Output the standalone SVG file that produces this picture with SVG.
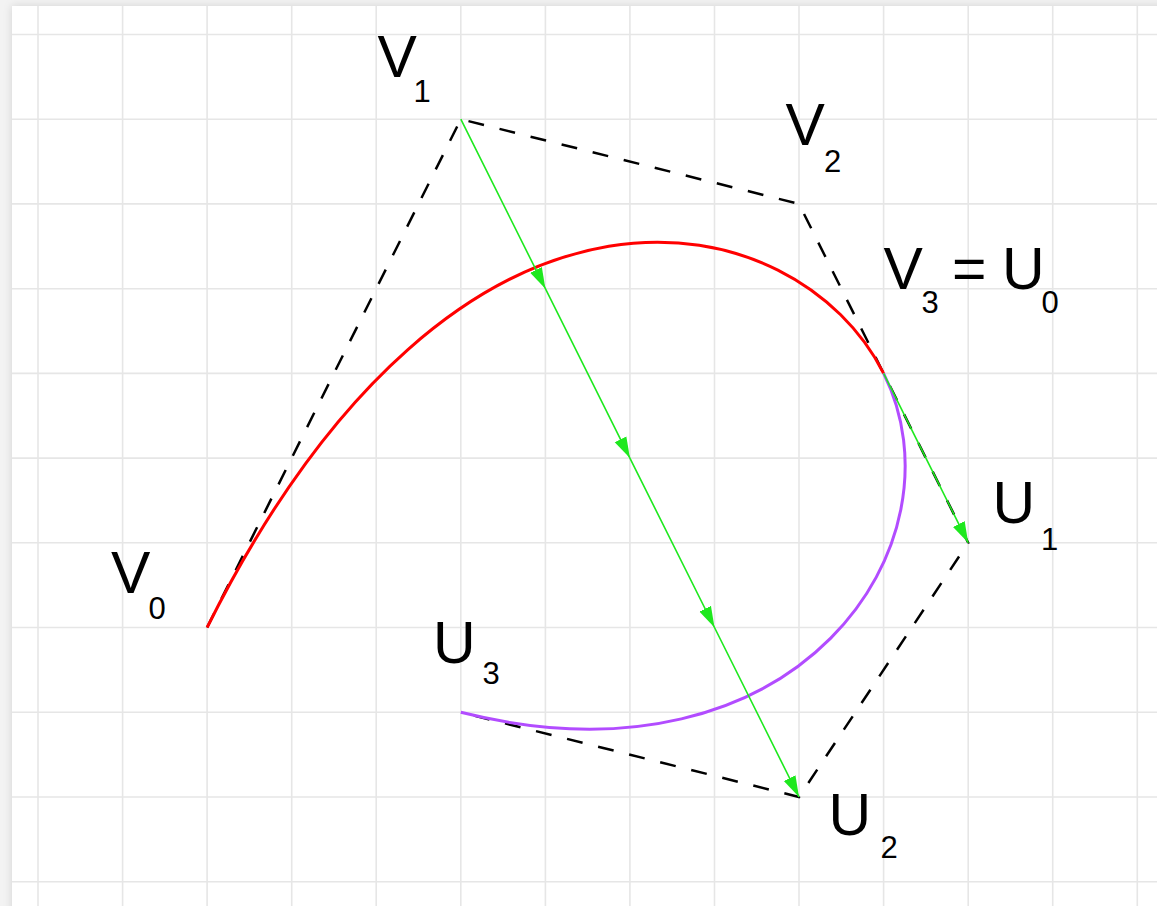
<svg xmlns="http://www.w3.org/2000/svg" width="1157" height="906" viewBox="0 0 1157 906">
<defs>
<style>
.grid line{stroke:#e6e6e6;stroke-width:1.6}
.poly{fill:none;stroke:#000;stroke-width:2.5;stroke-dasharray:16 16}
.bez{fill:none;stroke-width:3}
.arr{fill:none;stroke:#1ee81e;stroke-width:1.6}
.lbl{font-family:"Liberation Sans",Arial,sans-serif;font-size:59px;fill:#000}
.sub{font-size:31px}
</style>
<filter id="sh" x="-5%" y="-5%" width="110%" height="110%">
<feDropShadow dx="0" dy="0" stdDeviation="4" flood-color="#000" flood-opacity="0.14"/>
</filter>
<marker id="ah" viewBox="-21 -7 21 14" refX="0" refY="0" markerWidth="21" markerHeight="14" markerUnits="userSpaceOnUse" orient="auto">
<path d="M0,0 L-21,-6.5 L-21,6.5 Z" fill="#1ee81e"/>
</marker>
</defs>
<rect width="1157" height="906" fill="#f3f3f3"/>
<rect x="12" y="6" width="1160" height="920" fill="#fff" filter="url(#sh)"/>
<g id="grid" class="grid">
<line x1="38" y1="6" x2="38" y2="906"/>
<line x1="122.6" y1="6" x2="122.6" y2="906"/>
<line x1="207.1" y1="6" x2="207.1" y2="906"/>
<line x1="291.7" y1="6" x2="291.7" y2="906"/>
<line x1="376.2" y1="6" x2="376.2" y2="906"/>
<line x1="460.8" y1="6" x2="460.8" y2="906"/>
<line x1="545.4" y1="6" x2="545.4" y2="906"/>
<line x1="629.9" y1="6" x2="629.9" y2="906"/>
<line x1="714.5" y1="6" x2="714.5" y2="906"/>
<line x1="799" y1="6" x2="799" y2="906"/>
<line x1="883.6" y1="6" x2="883.6" y2="906"/>
<line x1="968.2" y1="6" x2="968.2" y2="906"/>
<line x1="1052.7" y1="6" x2="1052.7" y2="906"/>
<line x1="1137.3" y1="6" x2="1137.3" y2="906"/>
<line x1="12" y1="34.5" x2="1157" y2="34.5"/>
<line x1="12" y1="119.2" x2="1157" y2="119.2"/>
<line x1="12" y1="203.9" x2="1157" y2="203.9"/>
<line x1="12" y1="288.7" x2="1157" y2="288.7"/>
<line x1="12" y1="373.4" x2="1157" y2="373.4"/>
<line x1="12" y1="458.1" x2="1157" y2="458.1"/>
<line x1="12" y1="542.8" x2="1157" y2="542.8"/>
<line x1="12" y1="627.5" x2="1157" y2="627.5"/>
<line x1="12" y1="712.3" x2="1157" y2="712.3"/>
<line x1="12" y1="797" x2="1157" y2="797"/>
<line x1="12" y1="881.7" x2="1157" y2="881.7"/>
</g>
<g id="connectors">
<polyline id="control-polygon" class="poly" points="207.1,627.5 460.8,119.2 799,203.9 968.2,542.8 799,797 460.8,712.3"/>
<path id="curve-v" class="bez" stroke="#ff0000" d="M207.1,627.5 C460.8,119.2 799,203.9 883.6,373.4"/>
<path id="curve-u" class="bez" stroke="#b24cff" d="M883.6,373.4 C968.2,542.8 799,797 460.8,712.3"/>
<polyline id="arrow-v1-u2" class="arr" points="460.8,119.2 545.4,288.7 629.9,458.1 714.5,627.5 799,797" marker-mid="url(#ah)" marker-end="url(#ah)"/>
<line id="arrow-v3-u1" class="arr" x1="883.6" y1="373.4" x2="968.2" y2="542.8" marker-end="url(#ah)"/>
</g>
<g id="V0"><text class="lbl" x="111" y="593"><tspan>V</tspan><tspan class="sub" x="148.5" y="619">0</tspan></text></g>
<g id="V1"><text class="lbl" x="377.5" y="77"><tspan>V</tspan><tspan class="sub" x="413.5" y="102">1</tspan></text></g>
<g id="V2"><text class="lbl" x="785.5" y="145"><tspan>V</tspan><tspan class="sub" x="824" y="171.5">2</tspan></text></g>
<g id="V3U0"><text class="lbl" x="883.5" y="289"><tspan>V</tspan><tspan class="sub" x="921.5" y="313">3</tspan><tspan x="952" y="289">=</tspan><tspan x="1002" y="289">U</tspan><tspan class="sub" x="1041.5" y="313">0</tspan></text></g>
<g id="U1"><text class="lbl" x="992.5" y="523"><tspan>U</tspan><tspan class="sub" x="1041" y="550">1</tspan></text></g>
<g id="U2"><text class="lbl" x="828.5" y="835"><tspan>U</tspan><tspan class="sub" x="880.5" y="858">2</tspan></text></g>
<g id="U3"><text class="lbl" x="433" y="663"><tspan>U</tspan><tspan class="sub" x="482.5" y="684">3</tspan></text></g>
</svg>
